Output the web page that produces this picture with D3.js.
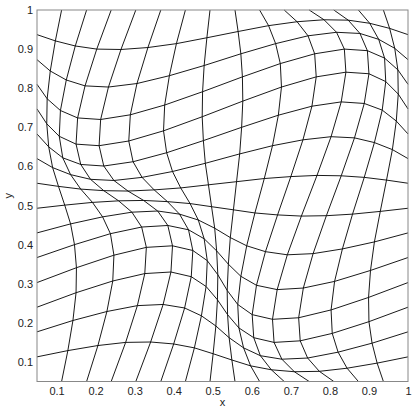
<!DOCTYPE html>
<html>
<head>
<meta charset="utf-8">
<script src="https://cdnjs.cloudflare.com/ajax/libs/d3/7.8.5/d3.min.js"></script>
<style>
  body { margin: 0; background: #fff; }
  .tick text, .label { font-family: "Liberation Sans", Arial, sans-serif; font-size: 11px; fill: #222; }
</style>
</head>
<body>
<div class="svg-container"></div>
<script>
var width = 415;
var height = 412;

var padding = { "top": 10,
                "right": 7,
                "bottom": 30.5,
                "left": 37 };

// tick values and labels, both axes
var tickValues = [0.1, 0.2, 0.3, 0.4, 0.5, 0.6, 0.7, 0.8, 0.9, 1];
var tickLabels = ["0.1", "0.2", "0.3", "0.4", "0.5", "0.6", "0.7", "0.8", "0.9", "1"];

// node x positions of the distorted mesh, one row per horizontal line (bottom to top)
var meshX = [
  [.05, .113, .177, .24, .303, .367, .43, .493, .557, .62, .683, .747, .81, .873, .937, 1],
  [.05, .129, .206, .277, .341, .400, .453, .501, .549, .597, .650, .709, .773, .844, .921, 1],
  [.05, .142, .229, .307, .373, .428, .471, .508, .542, .579, .622, .677, .743, .821, .908, 1],
  [.05, .150, .244, .326, .393, .445, .483, .512, .538, .567, .605, .657, .724, .806, .900, 1],
  [.05, .151, .247, .330, .397, .449, .486, .513, .537, .564, .601, .653, .720, .803, .899, 1],
  [.05, .146, .238, .318, .385, .438, .478, .510, .540, .572, .612, .665, .732, .812, .904, 1],
  [.05, .136, .218, .293, .359, .415, .463, .505, .545, .587, .635, .691, .757, .832, .914, 1],
  [.05, .121, .192, .259, .323, .384, .442, .497, .553, .608, .666, .727, .791, .858, .929, 1],
  [.05, .105, .162, .221, .283, .350, .418, .489, .561, .632, .700, .767, .829, .888, .945, 1],
  [.05, .090, .136, .187, .247, .319, .397, .481, .569, .653, .731, .803, .863, .914, .960, 1],
  [.05, .080, .116, .162, .221, .296, .382, .476, .574, .668, .754, .829, .888, .934, .970, 1],
  [.05, .075, .107, .150, .209, .285, .374, .473, .577, .676, .765, .841, .900, .943, .975, 1],
  [.05, .076, .110, .154, .213, .289, .377, .474, .576, .673, .761, .837, .896, .940, .974, 1],
  [.05, .084, .125, .173, .233, .306, .389, .478, .572, .661, .744, .817, .877, .925, .966, 1],
  [.05, .097, .148, .203, .265, .334, .407, .485, .565, .643, .716, .785, .847, .902, .953, 1],
  [.05, .113, .177, .24, .303, .367, .43, .493, .557, .62, .683, .747, .81, .873, .937, 1]
];

// node y positions, same layout
var meshY = [
  [.05, .05, .05, .05, .05, .05, .05, .05, .05, .05, .05, .05, .05, .05, .05, .05],
  [.113, .129, .142, .150, .151, .146, .136, .121, .105, .090, .080, .075, .076, .084, .097, .113],
  [.177, .206, .229, .244, .247, .238, .218, .192, .162, .136, .116, .107, .110, .125, .148, .177],
  [.24, .277, .307, .326, .330, .318, .293, .259, .221, .187, .162, .150, .154, .173, .203, .24],
  [.303, .341, .373, .393, .397, .385, .359, .323, .283, .247, .221, .209, .213, .233, .265, .303],
  [.367, .400, .428, .445, .449, .438, .415, .384, .350, .319, .296, .285, .289, .306, .334, .367],
  [.43, .453, .471, .483, .486, .478, .463, .442, .418, .397, .382, .374, .377, .389, .407, .43],
  [.493, .501, .508, .512, .513, .510, .505, .497, .489, .481, .476, .473, .474, .478, .485, .493],
  [.557, .549, .542, .538, .537, .540, .545, .553, .561, .569, .574, .577, .576, .572, .565, .557],
  [.62, .597, .579, .567, .564, .572, .587, .608, .632, .653, .668, .676, .673, .661, .643, .62],
  [.683, .650, .622, .605, .601, .612, .635, .666, .700, .731, .754, .765, .761, .744, .716, .683],
  [.747, .709, .677, .657, .653, .665, .691, .727, .767, .803, .829, .841, .837, .817, .785, .747],
  [.81, .773, .743, .724, .720, .732, .757, .791, .829, .863, .888, .900, .896, .877, .847, .81],
  [.873, .844, .821, .806, .803, .812, .832, .858, .888, .914, .934, .943, .940, .925, .902, .873],
  [.937, .921, .908, .900, .899, .904, .914, .929, .945, .960, .970, .975, .974, .966, .953, .937],
  [1, 1, 1, 1, 1, 1, 1, 1, 1, 1, 1, 1, 1, 1, 1, 1]
];

var svg = d3.select(".svg-container")
              .append("svg")
              .attr("width", width)
              .attr("height", height);

var scaleX = d3.scaleLinear()
              .domain([0.05, 1])
              .range([padding.left, width - padding.right]);

var scaleY = d3.scaleLinear()
              .domain([0.05, 1])
              .range([height - padding.bottom, padding.top]);

var line = d3.line()
              .x(function(d) { return scaleX(d[0]); })
              .y(function(d) { return scaleY(d[1]); });

var n = meshX.length;
var inner = d3.range(1, n - 1);

// horizontal mesh lines
var rows = inner.map(function(j) {
    return meshX[j].map(function(x, i) { return [x, meshY[j][i]]; });
});

// vertical mesh lines
var cols = inner.map(function(i) {
    return meshX.map(function(row, j) { return [row[i], meshY[j][i]]; });
});

svg.append("g")
    .selectAll("path")
    .data(rows.concat(cols))
    .enter()
    .append("path")
    .attr("fill", "none")
    .attr("stroke", "#000")
    .attr("stroke-width", 0.9)
    .attr("stroke-linejoin", "round")
    .attr("d", line);

// axes, labels only
var xAxis = svg.append("g")
    .attr("transform", "translate(0," + (height - padding.bottom) + ")")
    .call(d3.axisBottom(scaleX)
            .tickValues(tickValues)
            .tickFormat(function(d, k) { return tickLabels[k]; })
            .tickSize(0)
            .tickPadding(6));
xAxis.select(".domain").remove();

var yAxis = svg.append("g")
    .attr("transform", "translate(" + padding.left + ",0)")
    .call(d3.axisLeft(scaleY)
            .tickValues(tickValues)
            .tickFormat(function(d, k) { return tickLabels[k]; })
            .tickSize(0)
            .tickPadding(4));
yAxis.select(".domain").remove();

// plot box
svg.append("rect")
    .attr("x", scaleX(0.05))
    .attr("y", scaleY(1))
    .attr("width", scaleX(1) - scaleX(0.05))
    .attr("height", scaleY(0.05) - scaleY(1))
    .attr("fill", "none")
    .attr("stroke", "#888")
    .attr("stroke-width", 1);

svg.append("text")
    .attr("class", "label")
    .attr("x", (scaleX(0.05) + scaleX(1)) / 2)
    .attr("y", 406)
    .attr("text-anchor", "middle")
    .text("x");

svg.append("text")
    .attr("class", "label")
    .attr("transform", "rotate(-90)")
    .attr("x", -(scaleY(0.05) + scaleY(1)) / 2)
    .attr("y", 12)
    .attr("text-anchor", "middle")
    .text("y");
</script>
</body>
</html>
